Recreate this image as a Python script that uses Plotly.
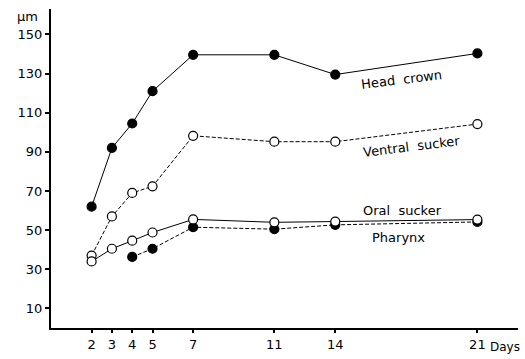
import plotly.graph_objects as go

days = [2, 3, 4, 5, 7, 11, 14, 21]
head_crown = [62, 92, 104.5, 121, 139.6, 139.6, 129.5, 140.3]
ventral_sucker = [37, 57, 69, 72.4, 98.2, 95.2, 95.2, 104.2]
oral_sucker = [34, 40.5, 44.6, 48.8, 55.5, 54, 54.4, 55.4]
pharynx_days = [4, 5, 7, 11, 14, 21]
pharynx = [36.3, 40.5, 51.5, 50.5, 52.7, 54.2]

y_ticks = [10, 30, 50, 70, 90, 110, 130, 150]
x_ticks = days
x_ticktext = ["2", "3", "4", "5", "7", "11", "14", "21"]

FONT = "DejaVu Sans"

fig = go.Figure()

def add(x, y, filled, dashed):
    fig.add_trace(go.Scatter(
        x=x, y=y, mode="lines+markers",
        line=dict(color="black", width=1, dash="4px,2px" if dashed else "solid"),
        marker=dict(size=9, symbol="circle",
                    color="black" if filled else "white",
                    line=dict(color="black", width=1.2)),
        showlegend=False, cliponaxis=False))

add(days, ventral_sucker, False, True)
add(pharynx_days, pharynx, True, True)
add(days, oral_sucker, False, False)
add(days, head_crown, True, False)

annotations = [
    dict(x=17.28, y=126.9, text="Head  crown", textangle=-7),
    dict(x=17.77, y=92.5, text="Ventral  sucker", textangle=-7),
    dict(x=17.3, y=60.1, text="Oral  sucker", textangle=0),
    dict(x=17.1, y=46.4, text="Pharynx", textangle=0),
]
for a in annotations:
    fig.add_annotation(x=a["x"], y=a["y"], text=a["text"], textangle=a["textangle"],
                       showarrow=False, font=dict(family=FONT, size=13, color="black"))

fig.add_annotation(x=21.5, xref="x", y=-0.059, yref="paper", text="Days",
                   showarrow=False, xanchor="left", yanchor="middle",
                   font=dict(family=FONT, size=12, color="black"))
fig.add_annotation(xref="paper", yref="paper", x=-0.051, y=0.975, yanchor="middle",
                   xanchor="center", text="µm", showarrow=False,
                   font=dict(family=FONT, size=13, color="black"))

fig.update_layout(
    width=525, height=359,
    margin=dict(l=51, r=7, t=9, b=28),
    paper_bgcolor="white", plot_bgcolor="white",
    font=dict(family=FONT, size=13, color="black"),
    xaxis=dict(range=[0, 23], tickvals=x_ticks, ticktext=x_ticktext,
               showline=True, linecolor="black", linewidth=2,
               ticks="outside", ticklen=3, tickwidth=1.5, tickcolor="black",
               showgrid=False, zeroline=False, tickfont=dict(size=13)),
    yaxis=dict(range=[0, 163], tickvals=y_ticks,
               showline=True, linecolor="black", linewidth=2,
               ticks="outside", ticklen=4, tickwidth=1.5, tickcolor="black",
               showgrid=False, zeroline=False, tickfont=dict(size=13)),
)

fig.write_html("out.html", config={"displayModeBar": False},
               post_script="document.body.style.margin='0';")
